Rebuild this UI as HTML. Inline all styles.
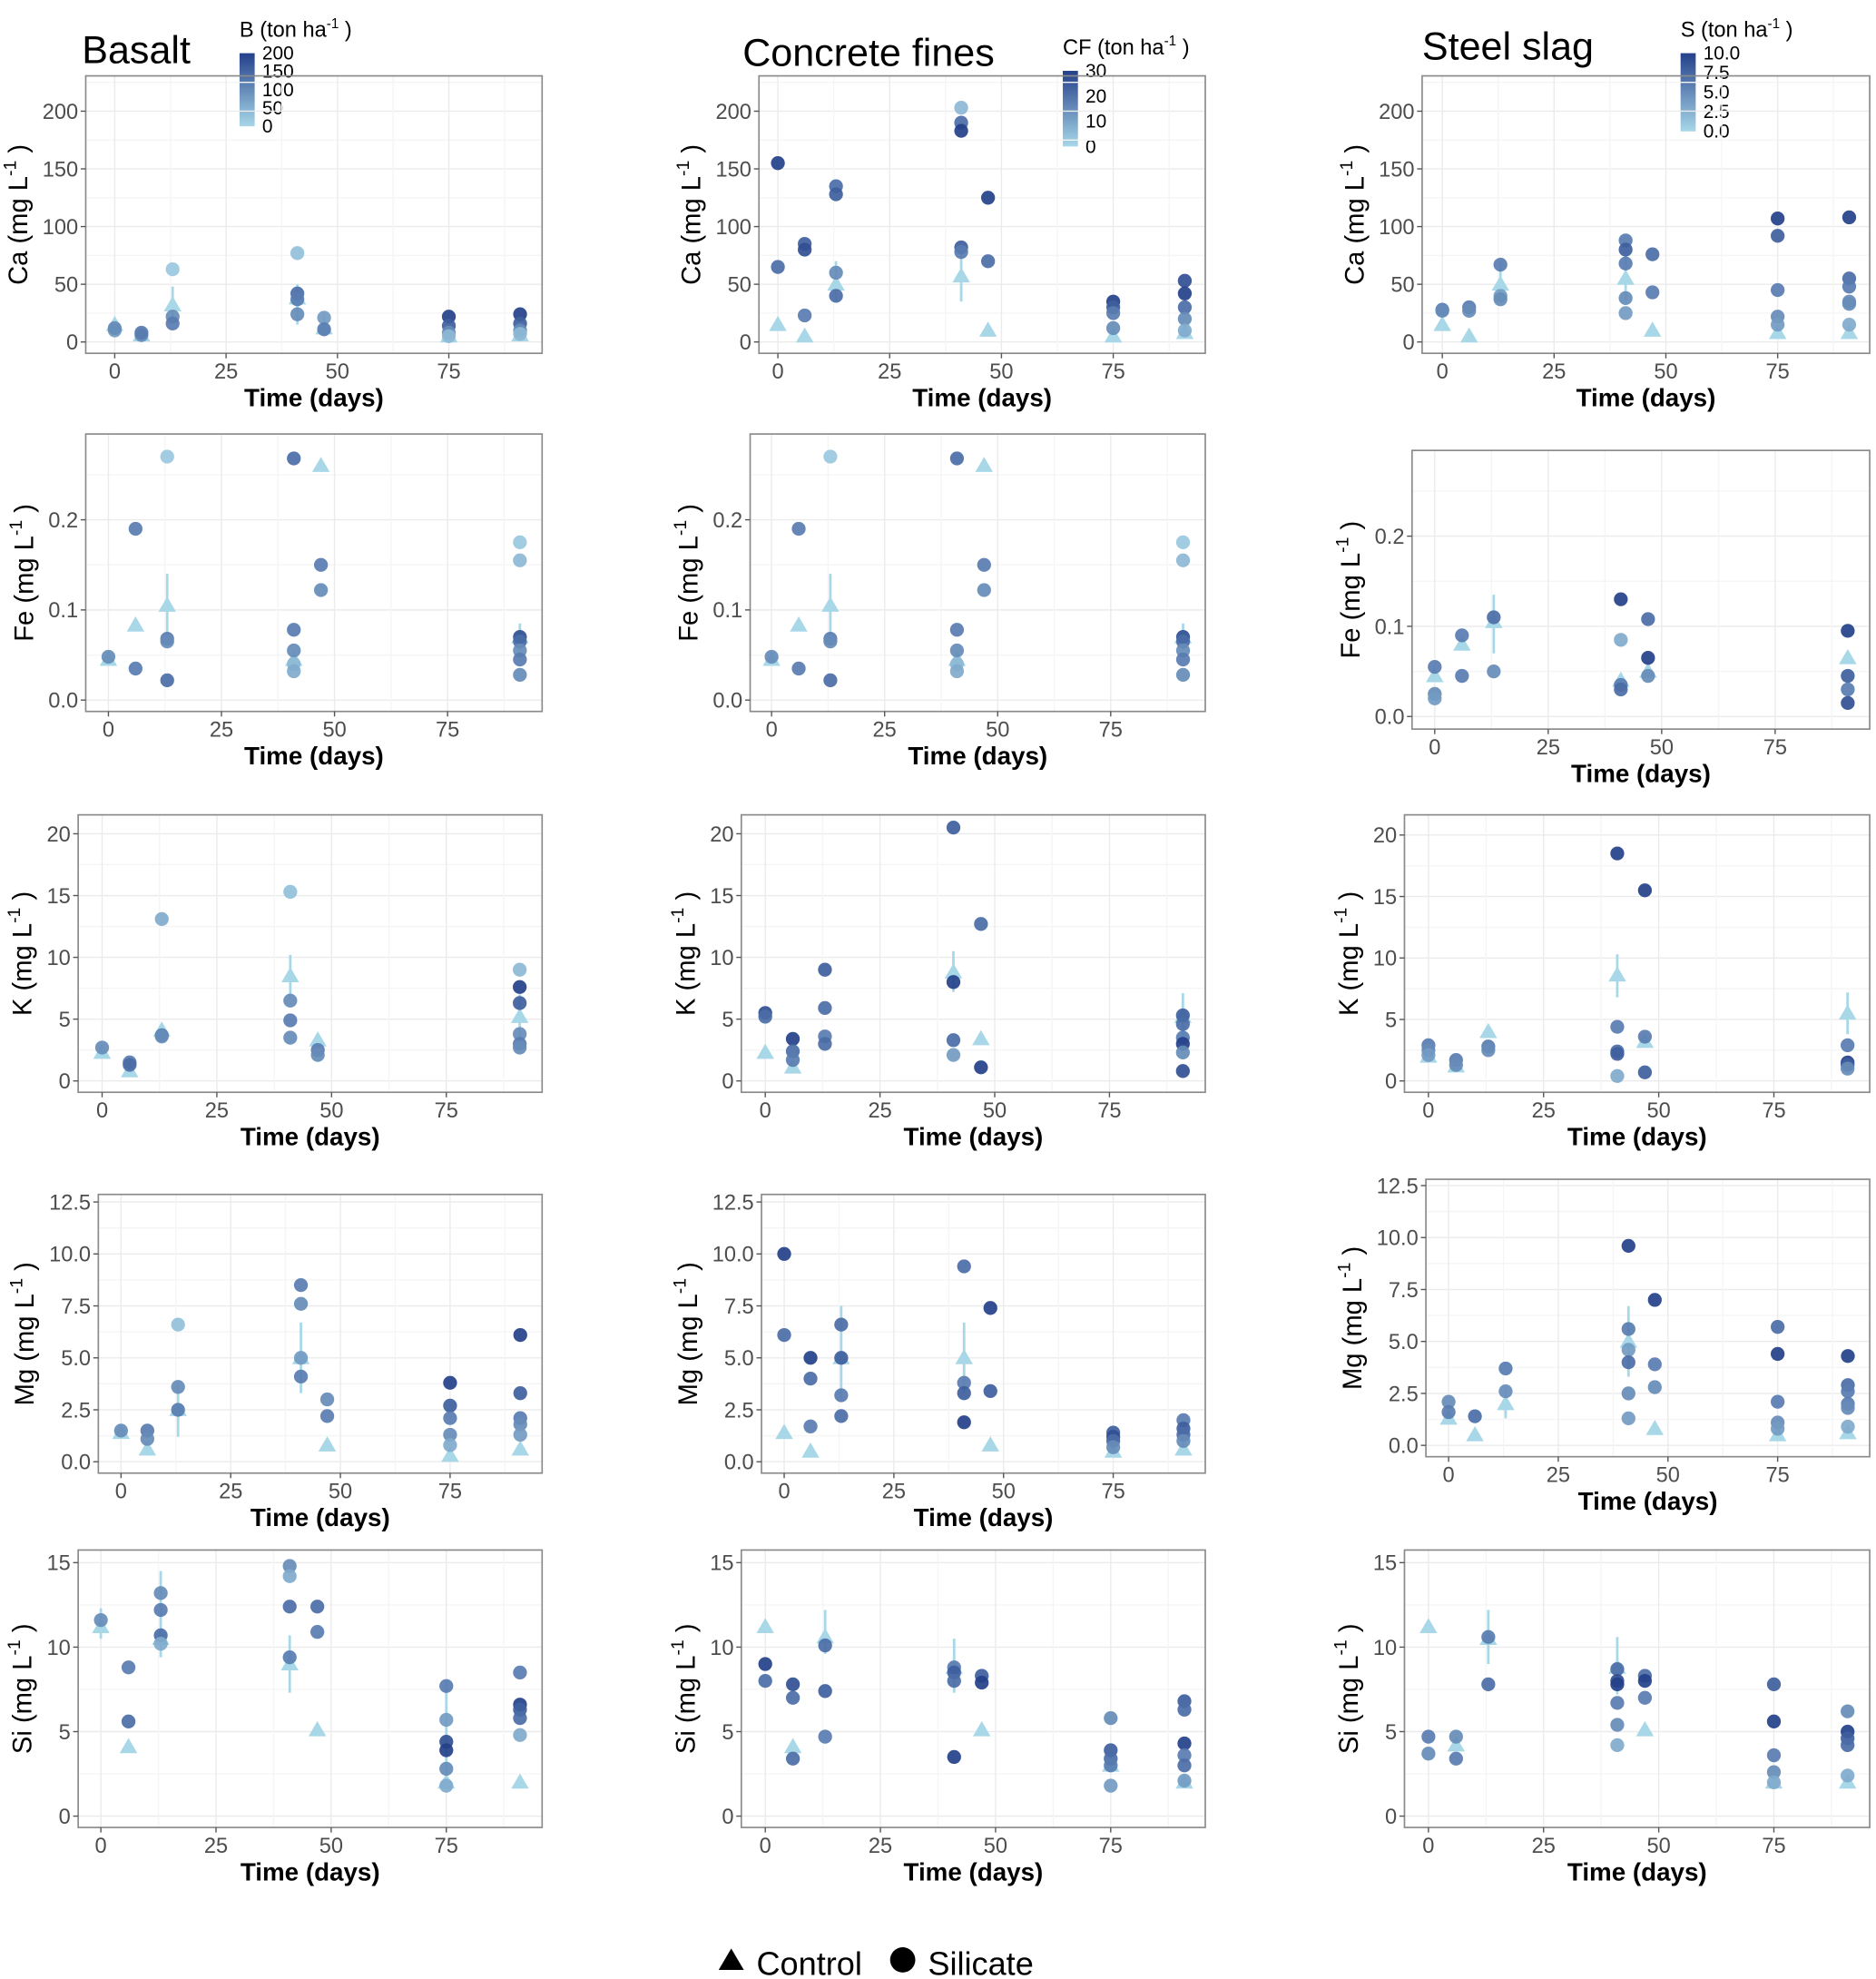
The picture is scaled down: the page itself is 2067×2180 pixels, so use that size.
<!DOCTYPE html>
<html><head><meta charset="utf-8"><style>
html,body{margin:0;padding:0;background:#fff;}
svg{display:block;font-family:"Liberation Sans",Arial,sans-serif;}
</style></head><body>
<svg id="chart" width="2067" height="2180" viewBox="0 0 1488 1569" xmlns="http://www.w3.org/2000/svg">
<rect width="1488" height="1569" fill="#fff"/>
<text x="65" y="50" font-size="31">Basalt</text>
<text x="589" y="52" font-size="31">Concrete fines</text>
<text x="1128" y="47" font-size="31">Steel slag</text>
<g id="legends"></g>
<g id="panels"></g>
<g>
<polygon points="570,1562 590,1562 580,1545" fill="#000"/>
<text x="600" y="1566" font-size="26">Control</text>
<circle cx="716" cy="1554" r="10" fill="#000"/>
<text x="736" y="1566" font-size="26">Silicate</text>
</g>
</svg>
<script>
// Data: silicate [day, value, level(0..1)], control [day, value, lo, hi]
const B_Ca_sil=[[0,10,.4],[0,12,.5],[6,6,.5],[6,8,.6],[13,63,.1],[13,22,.5],[13,16,.6],[41,77,.15],[41,42,.7],[41,37,.6],[41,24,.5],[47,21,.4],[47,11,.6],[75,22,1],[75,14,.8],[75,8,.5],[75,5,.2],[91,24,1],[91,16,.8],[91,10,.5],[91,7,.2]];
const B_Ca_ctl=[[0,15,15,15],[6,6,6,6],[13,32,20,48],[41,38,15,50],[47,12,5,25],[75,5,5,5],[91,6,6,6]];
const C_Ca_sil=[[0,155,1],[0,65,.7],[6,85,.8],[6,80,.9],[6,23,.6],[13,135,.7],[13,128,.8],[13,60,.5],[13,40,.7],[41,203,.2],[41,190,.7],[41,183,1],[41,82,.8],[41,78,.6],[47,125,1],[47,70,.7],[75,35,1],[75,30,.8],[75,25,.6],[75,12,.5],[91,53,.9],[91,42,1],[91,30,.7],[91,20,.5],[91,10,.3]];
const C_Ca_ctl=[[0,15,15,15],[6,5,5,5],[13,50,35,70],[41,57,35,78],[47,10,10,10],[75,5,5,5],[91,8,8,8]];
const S_Ca_sil=[[0,28,.6],[0,27,.5],[6,30,.6],[6,27,.5],[13,67,.6],[13,40,.4],[13,37,.5],[41,88,.6],[41,80,.8],[41,68,.6],[41,38,.5],[41,25,.4],[47,76,.7],[47,43,.6],[75,107,1],[75,92,.8],[75,45,.6],[75,22,.5],[75,15,.4],[91,108,1],[91,55,.7],[91,48,.6],[91,35,.5],[91,33,.5],[91,15,.3]];
const S_Ca_ctl=[[0,15,15,15],[6,5,5,5],[13,50,35,70],[41,55,35,75],[47,10,10,10],[75,8,8,8],[91,8,8,8]];
const B_Fe_sil=[[0,.048,.5],[6,.19,.6],[6,.035,.6],[13,.27,.1],[13,.068,.6],[13,.065,.5],[13,.022,.7],[41,.268,.7],[41,.078,.6],[41,.055,.5],[41,.04,.2],[41,.032,.3],[47,.15,.6],[47,.122,.5],[91,.175,.1],[91,.155,.2],[91,.07,.9],[91,.065,.7],[91,.055,.5],[91,.045,.6],[91,.028,.5]];
const B_Fe_ctl=[[0,.045,.045,.045],[6,.083,.083,.083],[13,.105,.07,.14],[41,.045,.045,.045],[47,.26,.26,.26],[91,.07,.055,.085]];
const C_Fe_sil=B_Fe_sil.slice();
const C_Fe_ctl=B_Fe_ctl.slice();
const S_Fe_sil=[[0,.055,.6],[0,.025,.5],[0,.02,.4],[6,.09,.6],[6,.045,.6],[13,.11,.7],[13,.05,.5],[41,.13,1],[41,.085,.3],[41,.035,.6],[41,.03,.7],[47,.108,.7],[47,.065,1],[47,.045,.5],[91,.095,1],[91,.045,.8],[91,.03,.6],[91,.015,.9]];
const S_Fe_ctl=[[0,.045,.045,.045],[6,.08,.08,.08],[13,.105,.07,.135],[41,.04,.04,.04],[47,.05,.05,.05],[91,.065,.065,.065]];
const B_K_sil=[[0,2.7,.5],[6,1.5,.6],[6,1.3,.7],[13,13.1,.3],[13,3.7,.6],[13,3.6,.5],[41,15.3,.15],[41,6.5,.5],[41,4.9,.6],[41,3.5,.5],[47,2.5,.6],[47,2.1,.5],[91,9,.2],[91,7.6,1],[91,6.3,.8],[91,3.8,.5],[91,3,.6],[91,2.7,.5]];
const B_K_ctl=[[0,2.3,2.3,2.3],[6,.8,.8,.8],[13,4.1,4.1,4.1],[41,8.5,6.7,10.2],[47,3.3,3.3,3.3],[91,5.2,3.5,7]];
const C_K_sil=[[0,5.5,.9],[0,5.2,.7],[6,3.4,1],[6,2.4,.7],[6,1.7,.6],[13,9,.8],[13,5.9,.7],[13,3.6,.6],[13,3,.7],[41,20.5,.8],[41,8,1],[41,3.3,.7],[41,2.1,.4],[47,12.7,.7],[47,1.1,1],[91,5.3,.8],[91,4.6,.7],[91,3.5,.6],[91,3,1],[91,2.3,.5],[91,.8,.9]];
const C_K_ctl=[[0,2.3,2.3,2.3],[6,1.1,1.1,1.1],[41,8.8,7.2,10.5],[47,3.4,3.4,3.4],[91,5.2,3.3,7.1]];
const S_K_sil=[[0,2.9,.6],[0,2.5,.5],[0,2.1,.4],[6,1.7,.6],[6,1.3,.5],[13,2.8,.6],[13,2.5,.5],[41,18.5,1],[41,4.4,.6],[41,2.4,.7],[41,2.2,.8],[41,.4,.3],[47,15.5,1],[47,3.6,.6],[47,.7,.8],[91,2.9,.6],[91,1.5,1],[91,1.3,.8],[91,1,.5]];
const S_K_ctl=[[0,2,2,2],[6,1.2,1.2,1.2],[13,4,4,4],[41,8.6,6.8,10.3],[47,3.2,3.2,3.2],[91,5.5,3.8,7.2]];
const B_Mg_sil=[[0,1.5,.5],[6,1.5,.6],[6,1.1,.5],[13,6.6,.15],[13,3.6,.5],[13,2.5,.6],[41,8.5,.6],[41,7.6,.5],[41,5,.4],[41,4.1,.6],[47,3,.5],[47,2.2,.6],[75,3.8,1],[75,2.7,.8],[75,2.1,.6],[75,1.3,.5],[75,.8,.3],[91,6.1,1],[91,3.3,.8],[91,2.1,.6],[91,1.8,.5],[91,1.3,.4]];
const B_Mg_ctl=[[0,1.4,1.4,1.4],[6,.6,.6,.6],[13,2.5,1.2,3.8],[41,5,3.3,6.7],[47,.8,.8,.8],[75,.3,.3,.3],[91,.6,.6,.6]];
const C_Mg_sil=[[0,10,1],[0,6.1,.7],[6,5,1],[6,4,.7],[6,1.7,.6],[13,6.6,.7],[13,5,.8],[13,3.2,.6],[13,2.2,.7],[41,9.4,.7],[41,3.8,.6],[41,3.3,.8],[41,1.9,1],[47,7.4,1],[47,3.4,.8],[75,1.4,.8],[75,1.2,.9],[75,1,.7],[75,.7,.5],[91,2,.6],[91,1.6,.8],[91,1.3,.7],[91,1,.5]];
const C_Mg_ctl=[[0,1.4,1.4,1.4],[6,.5,.5,.5],[13,5,3,7.5],[41,5,3.3,6.7],[47,.8,.8,.8],[75,.5,.5,.5],[91,.6,.6,.6]];
const S_Mg_sil=[[0,2.1,.5],[0,1.6,.6],[6,1.4,.7],[13,3.7,.6],[13,2.6,.5],[41,9.6,1],[41,5.6,.6],[41,4.6,.4],[41,4,.7],[41,2.5,.5],[41,1.3,.4],[47,7,1],[47,3.9,.6],[47,2.8,.5],[75,5.7,.7],[75,4.4,1],[75,2.1,.6],[75,1.1,.5],[75,.8,.4],[91,4.3,1],[91,2.9,.7],[91,2.6,.6],[91,2,.6],[91,1.8,.5],[91,.9,.3]];
const S_Mg_ctl=[[0,1.3,1.3,1.3],[6,.5,.5,.5],[13,2,1.3,2.8],[41,5,3.3,6.7],[47,.8,.8,.8],[75,.5,.5,.5],[91,.6,.6,.6]];
const B_Si_sil=[[0,11.6,.5],[6,8.8,.6],[6,5.6,.7],[13,13.2,.5],[13,12.2,.6],[13,10.7,.7],[13,10.2,.3],[41,14.8,.5],[41,14.2,.3],[41,12.4,.7],[41,9.4,.6],[47,12.4,.7],[47,10.9,.6],[75,7.7,.6],[75,5.7,.4],[75,4.4,.9],[75,3.9,1],[75,2.8,.5],[75,1.8,.3],[91,8.5,.6],[91,6.6,1],[91,6.3,.8],[91,5.8,.7],[91,4.8,.3]];
const B_Si_ctl=[[0,11.2,10.5,12.3],[6,4.1,4.1,4.1],[13,10.5,9.4,14.5],[41,9,7.3,10.7],[47,5.1,5.1,5.1],[75,2,2,8],[91,2,2,2]];
const C_Si_sil=[[0,9,1],[0,8,.7],[6,7.8,.9],[6,7,.7],[6,3.4,.7],[13,10.1,.7],[13,7.4,.8],[13,4.7,.6],[41,8.8,.6],[41,8.5,.8],[41,8,.7],[41,3.5,1],[47,8.3,.8],[47,7.9,1],[75,5.8,.5],[75,3.9,.8],[75,3.4,.7],[75,3,.6],[75,1.8,.4],[91,6.8,.8],[91,6.3,.7],[91,4.3,1],[91,3.6,.6],[91,3,.7],[91,2.1,.4]];
const C_Si_ctl=[[0,11.2,11.2,11.2],[6,4.1,4.1,4.1],[13,10.6,9.6,12.2],[41,8.8,7.3,10.5],[47,5.1,5.1,5.1],[75,3,3,3],[91,2,2,2]];
const S_Si_sil=[[0,4.7,.6],[0,3.7,.5],[6,4.7,.5],[6,3.4,.6],[13,10.6,.6],[13,7.8,.7],[41,8.7,.7],[41,8,.9],[41,7.8,1],[41,6.7,.6],[41,5.4,.5],[41,4.2,.3],[47,8.3,.7],[47,8,1],[47,7,.6],[75,7.8,.8],[75,5.6,1],[75,3.6,.6],[75,2.6,.5],[75,2,.3],[91,6.2,.5],[91,5,1],[91,4.6,.8],[91,4.2,.7],[91,2.4,.3]];
const S_Si_ctl=[[0,11.2,11.2,11.2],[6,4.2,4.2,4.2],[13,10.5,9,12.2],[41,8.8,7.2,10.6],[47,5.1,5.1,5.1],[75,2,2,2],[91,2,2,2]];
const caTicks=[0,50,100,150,200], feTicks=[0,0.1,0.2], kTicks=[0,5,10,15,20], mgTicks=[0,2.5,5,7.5,10,12.5], siTicks=[0,5,10,15];
const feLabels=["0.0","0.1","0.2"], mgLabels=["0.0","2.5","5.0","7.5","10.0","12.5"];
const xTicks=[0,25,50,75];

const NS="http://www.w3.org/2000/svg";
function mk(tag,attrs,parent){const e=document.createElementNS(NS,tag);for(const k in attrs)e.setAttribute(k,attrs[k]);parent.appendChild(e);return e;}
function col(l){const a=[167,215,232],b=[36,64,138];const c=a.map((v,i)=>Math.round(v+(b[i]-v)*l));return `rgb(${c[0]},${c[1]},${c[2]})`;}
const panelsG=document.getElementById('panels');
const P=[
["basalt-ca",[68,60,430,280],91,356,0,271,200,88,caTicks,null,"Ca",B_Ca_sil,B_Ca_ctl],
["concrete-ca",[602,60,956,280],617,883,0,271,200,88,caTicks,null,"Ca",C_Ca_sil,C_Ca_ctl],
["slag-ca",[1128,60,1483,280],1144,1410,0,271,200,88,caTicks,null,"Ca",S_Ca_sil,S_Ca_ctl],
["basalt-fe",[68,344,430,564],86,355,0,555,.2,412,feTicks,feLabels,"Fe",B_Fe_sil,B_Fe_ctl],
["concrete-fe",[595,344,956,564],612,881,0,555,.2,412,feTicks,feLabels,"Fe",C_Fe_sil,C_Fe_ctl],
["slag-fe",[1120,357,1483,578],1138,1408,0,568,.2,425,feTicks,feLabels,"Fe",S_Fe_sil,S_Fe_ctl],
["basalt-k",[62,646,430,866],81,354,0,857,20,661,kTicks,null,"K",B_K_sil,B_K_ctl],
["concrete-k",[588,646,956,866],607,880,0,857,20,661,kTicks,null,"K",C_K_sil,C_K_ctl],
["slag-k",[1114,646,1483,866],1133,1407,0,857,20,662,kTicks,null,"K",S_K_sil,S_K_ctl],
["basalt-mg",[78,947,430,1168],96,357,0,1159,12.5,953,mgTicks,mgLabels,"Mg",B_Mg_sil,B_Mg_ctl],
["concrete-mg",[604,947,956,1168],622,883,0,1159,12.5,953,mgTicks,mgLabels,"Mg",C_Mg_sil,C_Mg_ctl],
["slag-mg",[1131,935,1483,1155],1149,1410,0,1146,12.5,940,mgTicks,mgLabels,"Mg",S_Mg_sil,S_Mg_ctl],
["basalt-si",[62,1229,430,1449],80,354,0,1440,15,1239,siTicks,null,"Si",B_Si_sil,B_Si_ctl],
["concrete-si",[588,1229,956,1449],607,881,0,1440,15,1239,siTicks,null,"Si",C_Si_sil,C_Si_ctl],
["slag-si",[1114,1229,1483,1449],1133,1407,0,1440,15,1239,siTicks,null,"Si",S_Si_sil,S_Si_ctl]
];
P.forEach(p=>{
  const [name,[l,t,r,b],x0,x75,va,pa,vb,pb,ticks,labels,el,sil,ctl]=p;
  const X=d=>x0+(x75-x0)*d/75, Y=v=>pa+(pb-pa)*(v-va)/(vb-va);
  const g=mk('g',{},panelsG);
  
  
  const step=ticks[1]-ticks[0];
  for(let v=ticks[0]-step/2;v<=ticks[ticks.length-1]+step;v+=step/2){const y=Y(v);if(y<t||y>b)continue;mk('line',{x1:l,x2:r,y1:y,y2:y,stroke:(Math.abs((v-ticks[0])/step%1)<1e-6)?'#ebebeb':'#f5f5f5','stroke-width':1},g);}
  for(let d=-12.5;d<=100;d+=12.5){const x=X(d);if(x<l||x>r)continue;mk('line',{x1:x,x2:x,y1:t,y2:b,stroke:(d%25===0)?'#ebebeb':'#f5f5f5','stroke-width':1},g);}
  mk('rect',{x:l,y:t,width:r-l,height:b-t,fill:'none',stroke:'#8a8a8a','stroke-width':1.2},g);
  let maxc=0;
  ticks.forEach((v,i)=>{const y=Y(v);
    mk('line',{x1:l-4,x2:l,y1:y,y2:y,stroke:'#555'},g);
    const s=labels?labels[i]:String(v);maxc=Math.max(maxc,s.replace('.','').length+(s.includes('.')?0.5:0));
    const tx=mk('text',{x:l-6,y:y+6,'font-size':17,fill:'#4d4d4d','text-anchor':'end'},g);tx.textContent=s;
    
    });
  xTicks.forEach(d=>{const x=X(d);
    mk('line',{x1:x,x2:x,y1:b,y2:b+4,stroke:'#555'},g);
    const tx=mk('text',{x:x,y:b+20,'font-size':17,fill:'#4d4d4d','text-anchor':'middle'},g);tx.textContent=d;
    
    });
  const xt=mk('text',{x:(l+r)/2,y:b+42,'font-size':20,'font-weight':'bold','text-anchor':'middle'},g);xt.textContent='Time (days)';
  
  
  const cy=(t+b)/2, cx=l-(6+maxc*9.5+12);
  const yt=mk('text',{x:cx,y:cy,'font-size':21,'text-anchor':'middle',transform:`rotate(-90 ${cx} ${cy})`},g);
  
  
  yt.innerHTML=`${el} (mg L<tspan dy="-9" font-size="14">-1</tspan><tspan dy="9"> )</tspan>`;
  ctl.forEach(c=>{const x=X(c[0]);
    if(c[3]>c[2]){const ln=mk('line',{x1:x,x2:x,y1:Y(c[2]),y2:Y(c[3]),stroke:'#a8d8e8','stroke-width':2},g);
      
      }
    const y=Y(c[1]);
    const tri=mk('polygon',{points:`${x-7},${y+5} ${x+7},${y+5} ${x},${y-7}`,fill:'#a8d8e8'},g);
    
    });
  sil.forEach(s=>{const c=mk('circle',{cx:X(s[0]),cy:Y(s[1]),r:5.5,fill:col(s[2]),'fill-opacity':0.92},g);
    
    });
});
const lg=document.getElementById('legends');
[["B",190,42,58,["200","150","100","50","0"]],["CF",843,56,60,["30","20","10","0"]],["S",1333,42,62,["10.0","7.5","5.0","2.5","0.0"]]].forEach(([k,x,y,h,labs])=>{
  const g=mk('g',{},lg);
  
  
  const id='grad'+k;
  const gr=mk('linearGradient',{id:id,x1:0,y1:0,x2:0,y2:1},mk('defs',{},g));
  mk('stop',{offset:0,'stop-color':col(1)},gr);mk('stop',{offset:1,'stop-color':col(0)},gr);
  mk('rect',{x:x,y:y,width:12,height:h,fill:`url(#${id})`},g);
  labs.forEach((s,i)=>{const tx=mk('text',{x:x+18,y:y+5+h*i/(labs.length-1),'font-size':15},g);tx.textContent=s;});
  const tt=mk('text',{x:x,y:y-13,'font-size':17},g);
  tt.innerHTML=`${k} (ton ha<tspan dy="-7" font-size="11">-1</tspan><tspan dy="7"> )</tspan>`;
});
</script>
</body></html>
